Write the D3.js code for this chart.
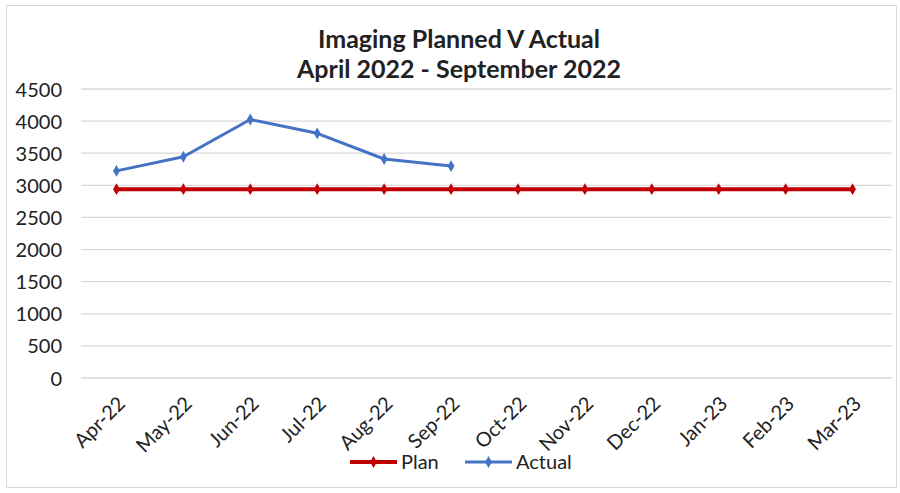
<!DOCTYPE html>
<html>
<head>
<meta charset="utf-8">
<script src="https://cdn.jsdelivr.net/npm/d3@7"></script>
<style>
  html, body { margin: 0; padding: 0; background: #fff; }
  svg { display: block; }
  text { font-family: Lato, "Open Sans", sans-serif; fill: #222; }
</style>
</head>
<body>
<svg id="chart" width="900" height="493"></svg>
<script>
// Monthly imaging activity, financial year 2022/23
const months = ["Apr-22","May-22","Jun-22","Jul-22","Aug-22","Sep-22","Oct-22","Nov-22","Dec-22","Jan-23","Feb-23","Mar-23"];
const plan = [2940,2940,2940,2940,2940,2940,2940,2940,2940,2940,2940,2940];
const actual = [3225,3445,4025,3810,3410,3300];
const yTicks = [0,500,1000,1500,2000,2500,3000,3500,4000,4500];
const titleLines = ["Imaging Planned V Actual", "April 2022 - September 2022"];

const svg = d3.select("#chart");

// outer chart frame
svg.append("rect")
  .attr("x", 6.5).attr("y", 5.5).attr("width", 890).attr("height", 482)
  .attr("fill", "#fff").attr("stroke", "#d9d9d9").attr("stroke-width", 1);

const plot = { left: 83, right: 886, top: 89, bottom: 378 };

const x = d3.scaleBand().domain(months).range([plot.left, plot.right]);
const cx = d => x(d) + x.bandwidth() / 2;
const y = d3.scaleLinear().domain([0, 4500]).range([plot.bottom, plot.top]);

// horizontal gridlines
svg.append("g")
  .selectAll("line").data(yTicks).join("line")
  .attr("x1", plot.left - 2).attr("x2", plot.right + 6)
  .attr("y1", d => y(d)).attr("y2", d => y(d))
  .attr("stroke", "#d9d9d9").attr("stroke-width", 1.3);

// y axis labels
const yAxis = d3.axisLeft(y).tickValues(yTicks).tickFormat(d3.format("d")).tickSize(0).tickPadding(0);
const gy = svg.append("g").attr("transform", `translate(${plot.left - 21},0)`).call(yAxis);
gy.select(".domain").remove();
gy.selectAll("text")
  .style("font-family", "Lato, sans-serif")
  .style("font-size", "20px").attr("fill", "#222").attr("dy", "0.35em");

// x axis labels, rotated
const xAxis = d3.axisBottom(x).tickSize(0).tickPadding(0);
const gx = svg.append("g").attr("transform", `translate(0,${plot.bottom})`).call(xAxis);
gx.select(".domain").remove();
gx.selectAll("text")
  .style("font-family", "Lato, sans-serif")
  .style("font-size", "20px").attr("fill", "#222")
  .attr("text-anchor", "end")
  .attr("transform", "translate(5,22) rotate(-45)")
  .attr("dy", "0.35em").attr("y", 0);

// title
svg.append("g").selectAll("text").data(titleLines).join("text")
  .attr("x", 459).attr("y", (d, i) => 48 + i * 30)
  .attr("text-anchor", "middle")
  .style("font-size", "25px").style("font-weight", "700")
  .text(d => d);

const line = d3.line().x((d, i) => cx(months[i])).y(d => y(d));
const diamond = d3.symbol().type(d3.symbolDiamond).size(40);

function drawSeries(values, color, width) {
  svg.append("path").datum(values)
    .attr("d", line).attr("fill", "none")
    .attr("stroke", color).attr("stroke-width", width)
    .attr("stroke-linejoin", "round");
  svg.append("g").selectAll("path").data(values).join("path")
    .attr("d", diamond)
    .attr("transform", (d, i) => `translate(${cx(months[i])},${y(d)})`)
    .attr("fill", color);
}

drawSeries(plan, "#c00000", 4);
drawSeries(actual, "#4472c4", 3);

// legend
const legend = [
  { name: "Plan", color: "#c00000", x: 350, w: 4 },
  { name: "Actual", color: "#4472c4", x: 465, w: 3 }
];
const lg = svg.append("g").selectAll("g").data(legend).join("g")
  .attr("transform", d => `translate(${d.x},462)`);
lg.append("line").attr("x1", 0).attr("x2", 47).attr("y1", 0).attr("y2", 0)
  .attr("stroke", d => d.color).attr("stroke-width", d => d.w);
lg.append("path").attr("d", diamond).attr("transform", "translate(23.5,0)")
  .attr("fill", d => d.color);
lg.append("text").attr("x", 51).attr("y", 0).attr("dy", "0.35em")
  .style("font-size", "20px").text(d => d.name);
</script>
</body>
</html>
